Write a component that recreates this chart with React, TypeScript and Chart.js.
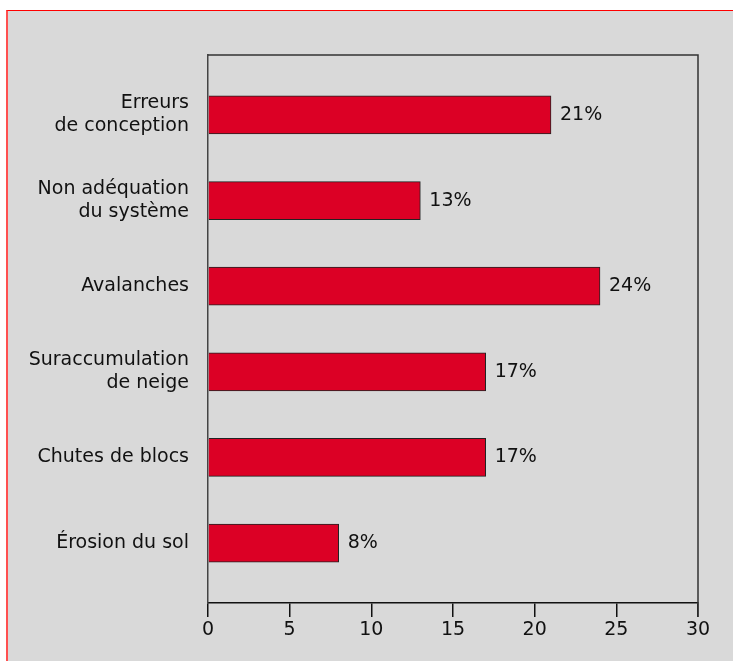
import React, { useEffect, useRef } from "react";
import { Chart, registerables } from "chart.js";

Chart.register(...registerables);

const categories: string[][] = [
  ["Erreurs", "de conception"],
  ["Non adéquation", "du système"],
  ["Avalanches"],
  ["Suraccumulation", "de neige"],
  ["Chutes de blocs"],
  ["Érosion du sol"],
];
const values: number[] = [21, 13, 24, 17, 17, 8];
const valueLabels: string[] = ["21%", "13%", "24%", "17%", "17%", "8%"];
const xTicks = { min: 0, max: 30, step: 5 };

const FONT = "'DejaVu Sans', 'Liberation Sans', Arial, sans-serif";
const FS = 19;

export default function App() {
  const ref = useRef<HTMLCanvasElement | null>(null);

  useEffect(() => {
    if (!ref.current) return;
    const frame = {
      id: "frame",
      afterDatasetsDraw(chart: any) {
        const { ctx, chartArea } = chart;
        ctx.save();
        ctx.strokeStyle = "#333";
        ctx.lineWidth = 1.5;
        ctx.beginPath();
        ctx.moveTo(chartArea.left, chartArea.top);
        ctx.lineTo(chartArea.right, chartArea.top);
        ctx.lineTo(chartArea.right, chartArea.bottom + 14);
        ctx.stroke();
        const meta = chart.getDatasetMeta(0);
        ctx.fillStyle = "#111";
        ctx.font = `${FS}px ${FONT}`;
        ctx.textBaseline = "middle";
        ctx.textAlign = "left";
        meta.data.forEach((bar: any, i: number) => {
          ctx.fillText(valueLabels[i], bar.x + 9, bar.y);
        });
        ctx.restore();
      },
    };
    const chart = new Chart(ref.current, {
      type: "bar",
      data: {
        datasets: [
          {
            data: values.map((v, i) => ({ x: v, y: i })),
            backgroundColor: "#dc0025",
            borderColor: "#222",
            borderWidth: 1,
            barThickness: 38,
          },
        ],
      },
      options: {
        indexAxis: "y",
        responsive: false,
        animation: false,
        layout: { padding: { left: 0, top: 55, right: 35, bottom: 0 } },
        plugins: { legend: { display: false }, tooltip: { enabled: false } },
        scales: {
          x: {
            type: "linear",
            min: xTicks.min,
            max: xTicks.max,
            offset: false,
            ticks: {
              stepSize: xTicks.step,
              color: "#111",
              font: { family: FONT, size: FS },
              padding: 2,
            },
            grid: {
              drawOnChartArea: false,
              drawTicks: true,
              tickLength: 14,
              color: "#111",
              lineWidth: 1.5,
              offset: false,
            },
            border: { display: true, color: "#111", width: 1.5 },
            afterFit: (s: any) => {
              s.height = 58;
            },
          },
          y: {
            type: "linear",
            min: -0.7,
            max: 5.7,
            reverse: true,
            offset: false,
            afterBuildTicks: (s: any) => {
              s.ticks = categories.map((_, i) => ({ value: i }));
            },
            ticks: {
              autoSkip: false,
              color: "#111",
              font: { family: FONT, size: FS, lineHeight: 1.2 },
              padding: 19,
              callback: (v: any) => {
                const i = Math.round(Number(v));
                return categories[i] ?? "";
              },
            },
            grid: { display: false, drawTicks: false, offset: false },
            border: { display: true, color: "#444", width: 1.5 },
            afterFit: (s: any) => {
              s.width = 208;
            },
          },
        },
      },
      plugins: [frame],
    });
    return () => chart.destroy();
  }, []);

  return (
    <div style={{ position: "absolute", left: 0, top: 0, width: 733, height: 661, background: "#fff", overflow: "hidden" }}>
      <div
        style={{
          position: "absolute",
          left: 6,
          top: 10,
          width: 733,
          height: 661,
          background: "rgb(217,217,217)",
          borderLeft: "2px solid #ff5050",
          borderTop: "1px solid #ff0000",
        }}
      />
      <canvas ref={ref} width={733} height={661} style={{ position: "absolute", left: 0, top: 0 }} />
    </div>
  );
}
